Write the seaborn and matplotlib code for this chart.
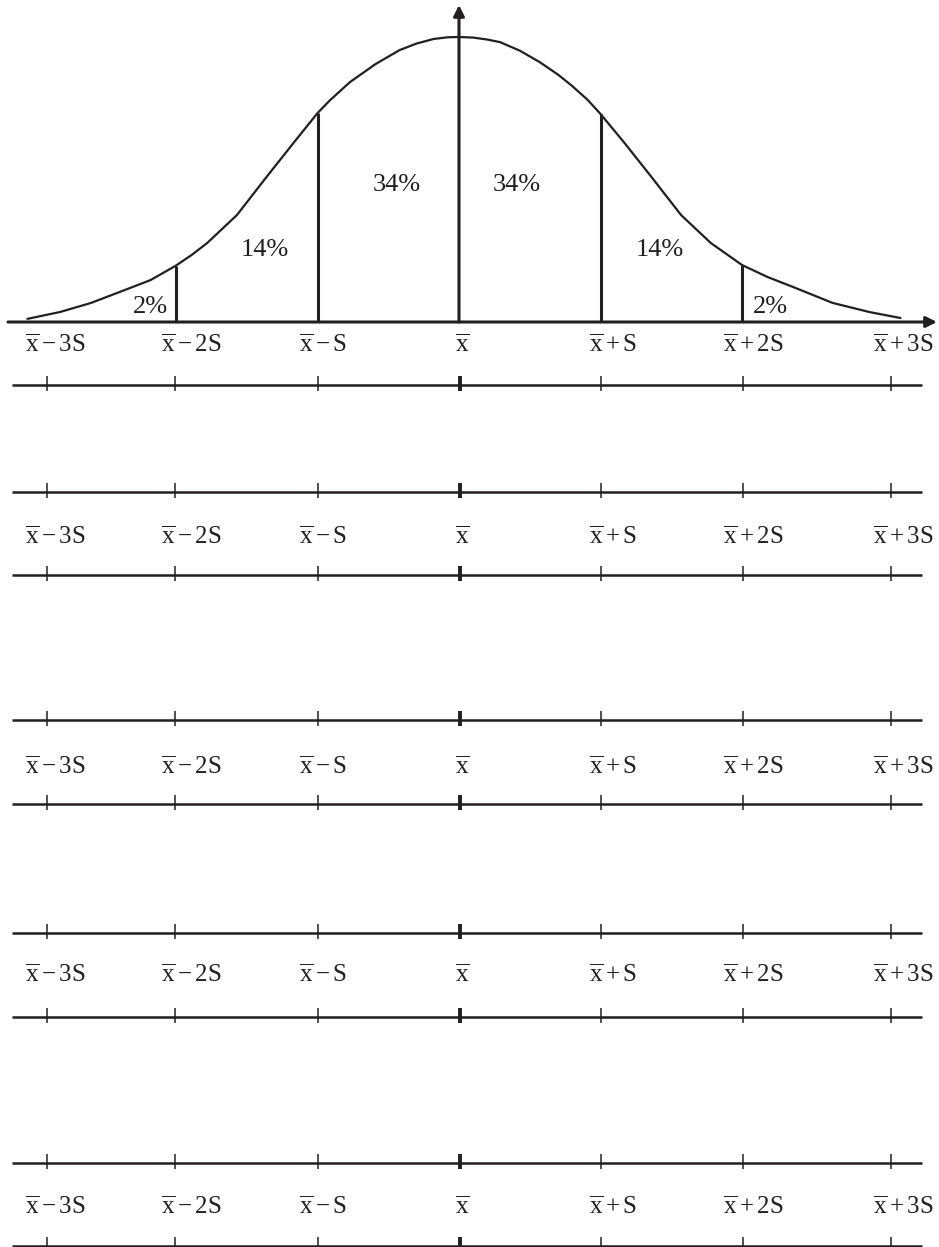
import matplotlib
matplotlib.use("Agg")
import matplotlib.pyplot as plt
import numpy as np
import seaborn as sns

# bell curve: x in units of S from the mean, height relative to the peak
curve_x = [-3.05, -2.82, -2.6, -2.4, -2.18, -2.0, -1.89, -1.78, -1.57, -1.36, -1.17,
           -1.0, -0.91, -0.77, -0.59, -0.42, -0.3, -0.18, -0.08, 0.0, 0.1, 0.2, 0.29,
           0.43, 0.57, 0.7, 0.8, 0.91, 1.0, 1.17, 1.36, 1.57, 1.78, 2.0, 2.18, 2.36,
           2.64, 2.9, 3.12]
curve_h = [0.011, 0.035, 0.067, 0.105, 0.147, 0.198, 0.235, 0.277, 0.375, 0.509, 0.628,
           0.733, 0.779, 0.842, 0.905, 0.954, 0.977, 0.993, 0.999, 1.0, 0.998, 0.991, 0.982,
           0.952, 0.912, 0.868, 0.828, 0.779, 0.73, 0.628, 0.509, 0.375, 0.277, 0.2,
           0.158, 0.123, 0.067, 0.035, 0.014]

# vertical boundaries under the curve
bound_x = [-2, -1, 1, 2]
bound_h = [0.196, 0.733, 0.730, 0.200]

# share of the area in each band
pct_labels = ["2%", "14%", "34%", "34%", "14%", "2%"]
pct_x = [-2.18, -1.37, -0.44, 0.41, 1.42, 2.20]
pct_y = [0.053, 0.253, 0.48, 0.48, 0.253, 0.053]

# axis labels and where they sit
axis_labels = [r"$\overline{x} - 3S$", r"$\overline{x} - 2S$", r"$\overline{x} - S$",
               r"$\overline{x}$", r"$\overline{x} + S$", r"$\overline{x} + 2S$",
               r"$\overline{x} + 3S$"]
label_x = [-2.85, -1.89, -0.96, 0.02, 1.09, 2.08, 3.14]

# tick marks on the blank number lines
tick_x = [-2.91, -2.01, -1.0, 0.01, 1.0, 2.01, 3.05]

# layout, in pixels of the 939x1247 page
W, H = 939, 1247
mean_px, s_px = 459, 141.5
base_px, peak_px = 322, 285
line_rows = [385, 492, 575, 720, 804, 933, 1017, 1163, 1246]
label_rows = [345, 537, 767, 975, 1207]

ink = "#231f20"

sns.set_theme(style="white")
plt.rcParams["font.family"] = ["Liberation Serif", "DejaVu Serif"]
plt.rcParams["mathtext.fontset"] = "custom"
plt.rcParams["mathtext.rm"] = "Liberation Serif"
plt.rcParams["mathtext.it"] = "Liberation Serif:italic"
plt.rcParams["mathtext.default"] = "rm"

fig = plt.figure(figsize=(W / 100, H / 100), dpi=100)
xlim = ((0 - mean_px) / s_px, (W - mean_px) / s_px)

# page axes in pixel rows, for the number lines and labels
pg = fig.add_axes([0, 0, 1, 1])
pg.set_xlim(*xlim)
pg.set_ylim(H, 0)
pg.axis("off")

# curve axes, bottom edge on the horizontal axis
ax = fig.add_axes([0, 1 - base_px / H, 1, base_px / H])
ax.set_xlim(*xlim)
ax.set_ylim(0, base_px / peak_px)
ax.axis("off")
ax.patch.set_alpha(0)

sns.lineplot(x=curve_x, y=curve_h, ax=ax, color=ink, lw=1.6, estimator=None)
ax.vlines(bound_x, 0, bound_h, color=ink, lw=2.2)

arrow = dict(arrowstyle="-|>", color=ink, lw=2.2, shrinkA=0, shrinkB=0, mutation_scale=16)
ax.annotate("", xy=((937 - mean_px) / s_px, 0), xytext=((8 - mean_px) / s_px, 0),
            arrowprops=arrow, annotation_clip=False)
ax.annotate("", xy=(0, (base_px - 5) / peak_px), xytext=(0, 0),
            arrowprops=arrow, annotation_clip=False)

for lab, x, y in zip(pct_labels, pct_x, pct_y):
    ax.text(x, y, lab, ha="center", va="center", fontsize=19, color=ink)

# blank number lines
x0, x1 = (12 - mean_px) / s_px, (922 - mean_px) / s_px
pg.hlines(line_rows, x0, x1, color=ink, lw=1.8, clip_on=False)
side = [t for t in tick_x if abs(t) > 0.5]
mid = [t for t in tick_x if abs(t) <= 0.5]
for r in line_rows:
    pg.vlines(side, r - 9, r + 6, color=ink, lw=1.1, clip_on=False)
    pg.vlines(mid, r - 9, r + 6, color=ink, lw=2.8, clip_on=False)

for r in label_rows:
    for lab, x in zip(axis_labels, label_x):
        pg.text(x, r, lab, ha="center", va="center", fontsize=18, color=ink)

fig.savefig("out.png", dpi=100)
